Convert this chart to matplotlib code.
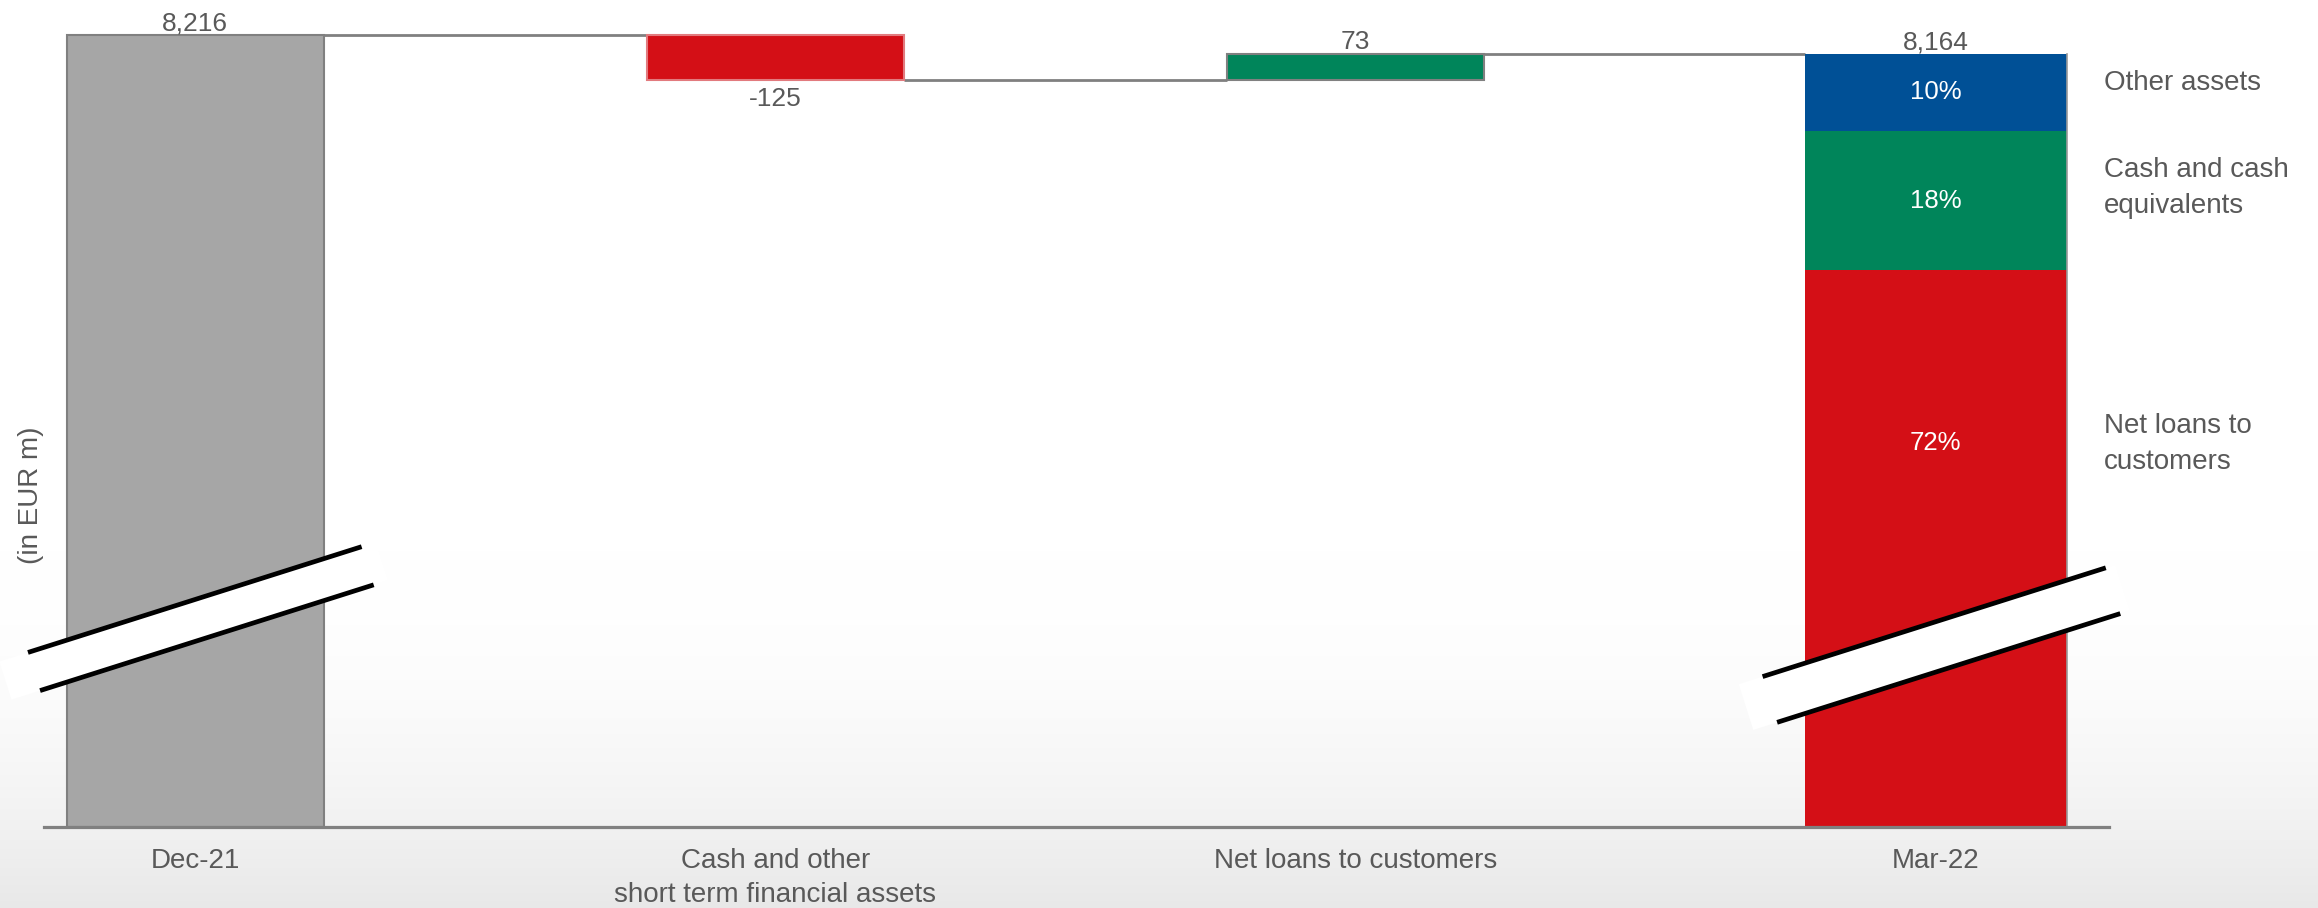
import numpy as np
import matplotlib
matplotlib.use("Agg")
import matplotlib.pyplot as plt
from matplotlib.lines import Line2D
from matplotlib.patches import Polygon
from matplotlib.transforms import IdentityTransform

# ---------------- data ----------------
categories = ["Dec-21", "Cash and other\nshort term financial assets",
              "Net loans to customers", "Mar-22"]
start_value = 8216
deltas = [-125, 73]
end_value = 8164
value_labels = ["8,216", "-125", "73", "8,164"]
mix_labels = ["Net loans to\ncustomers", "Cash and cash\nequivalents", "Other assets"]
mix_pct = [72, 18, 10]
mix_pct_labels = ["72%", "18%", "10%"]
axis_floor = 6000          # value where the (broken) axis starts
y_label = "(in EUR m)"

# ---------------- style ----------------
plt.rcParams['font.family'] = ['Liberation Sans', 'DejaVu Sans']
TXT = '#595959'
GRAY = '#a6a6a6'
EDGE = '#808080'
RED = '#d40f16'
GREEN = '#00855a'
BLUE = '#005096'
mix_colors = [RED, GREEN, BLUE]

W, H = 2318, 908
fig = plt.figure(figsize=(W / 100, H / 100), dpi=100)
fig.patch.set_facecolor('white')

# background gradient (white -> light gray at the bottom)
bg = fig.add_axes([0, 0, 1, 1], zorder=-10)
ypx = np.arange(H)
s = np.clip((ypx - 550) / 358.0, 0, 1)
v = 1 - 0.09 * s ** 2
img = np.repeat(v[:, None], 8, axis=1)
rgb = np.dstack([img, img, img])
bg.imshow(rgb, aspect='auto', extent=[0, 1, 0, 1], origin='upper',
          interpolation='nearest')
bg.set_xlim(0, 1)
bg.set_ylim(0, 1)
bg.axis('off')

ax = fig.add_axes([44 / W, 81 / H, 2065 / W, 822 / H])
ax.set_facecolor('none')
ax.set_xlim(-0.2603, 3.2988)
ax.set_ylim(axis_floor, 8300)
for sp in ['top', 'right', 'left']:
    ax.spines[sp].set_visible(False)
ax.spines['bottom'].set_color('#808080')
ax.spines['bottom'].set_linewidth(2.3)
ax.set_xticks([])
ax.set_yticks([])

bw = 0.443
bw_last = 0.452

# levels of the waterfall
levels = [start_value]
for d in deltas:
    levels.append(levels[-1] + d)

# start bar
ax.bar(0, start_value - axis_floor, bottom=axis_floor, width=bw,
       color=GRAY, edgecolor=EDGE, linewidth=1.5, zorder=2)

# delta bars
for i, d in enumerate(deltas, start=1):
    lo = min(levels[i - 1], levels[i])
    col = RED if d < 0 else GREEN
    ec = '#e27a7e' if d < 0 else EDGE
    ax.bar(i, abs(d), bottom=lo, width=bw, color=col, edgecolor=ec,
           linewidth=1.5, zorder=2)

# end bar, split into its composition
total_h = end_value - axis_floor
bottoms = []
b = axis_floor
for p, c in zip(mix_pct, mix_colors):
    h = total_h * p / 100.0
    ax.bar(3, h, bottom=b, width=bw_last, color=c, linewidth=0, zorder=2)
    bottoms.append((b, h))
    b += h
ax.plot([3 + bw_last / 2] * 2, [axis_floor, end_value], color='#9a9a9a',
        lw=1.2, zorder=2)

# connectors
for i in range(3):
    lvl = levels[i]
    left = i + bw / 2
    right = (i + 1) - (bw_last if i + 1 == 3 else bw) / 2
    ax.plot([left, right], [lvl, lvl], color=EDGE, lw=2.0, zorder=1,
            solid_capstyle='butt')

NUM_FS = 19
LAB_FS = 20

# value labels
ax.annotate(value_labels[0], xy=(0, start_value), xytext=(0, 3),
            textcoords='offset points', ha='center', va='baseline',
            fontsize=NUM_FS, color=TXT)
for i, d in enumerate(deltas, start=1):
    if d < 0:
        ax.annotate(value_labels[i], xy=(i, levels[i]), xytext=(0, -5),
                    textcoords='offset points', ha='center', va='top',
                    fontsize=NUM_FS, color=TXT)
    else:
        ax.annotate(value_labels[i], xy=(i, levels[i]), xytext=(0, 3),
                    textcoords='offset points', ha='center', va='baseline',
                    fontsize=NUM_FS, color=TXT)
ax.annotate(value_labels[3], xy=(3, end_value), xytext=(0, 3),
            textcoords='offset points', ha='center', va='baseline',
            fontsize=NUM_FS, color=TXT)

# category labels
for i, cat in enumerate(categories):
    ax.annotate(cat, xy=(i, axis_floor), xytext=(0, -15),
                textcoords='offset points', ha='center', va='top',
                fontsize=LAB_FS, color=TXT, linespacing=1.4,
                annotation_clip=False)

# composition labels
pct_pos = [0.69, 0.5, 0.5]
side_offsets = [-1, 9, 7]
for (b0, h), lab, plab, fpos, off in zip(bottoms, mix_labels, mix_pct_labels,
                                         pct_pos, side_offsets):
    yc = b0 + h * fpos
    ax.text(3, yc, plab, ha='center', va='center', fontsize=18.5,
            color='white', zorder=4)
    ax.annotate(lab, xy=(3 + bw_last / 2, yc), xytext=(27, off),
                textcoords='offset points', ha='left', va='center',
                fontsize=LAB_FS, color=TXT, linespacing=1.5,
                annotation_clip=False)

fig.text(31 / W, 1 - 495 / H, y_label, rotation=90, ha='center',
         va='center', fontsize=LAB_FS, color=TXT)


# axis break marks
def draw_break(xd, yd, sep, half_line, half_band):
    c = np.array(ax.transData.transform((xd, yd)))
    d = np.array([1.0, 0.317])
    d /= np.linalg.norm(d)
    n = np.array([0.317, -1.0])
    n /= np.linalg.norm(n)
    band = [c - d * half_band - n * sep / 2, c + d * (half_band - 15) - n * sep / 2,
            c + d * (half_band - 15) + n * sep / 2, c - d * half_band + n * sep / 2]
    poly = Polygon(band, closed=True, facecolor='white', edgecolor='none',
                   transform=IdentityTransform(), zorder=5)
    fig.add_artist(poly)
    for sgn in (-1, 1):
        cc = c + sgn * n * sep / 2
        p0 = cc - d * half_line
        p1 = cc + d * half_line
        ln = Line2D([p0[0], p1[0]], [p0[1], p1[1]], color='black', lw=3.4,
                    solid_capstyle='butt', transform=IdentityTransform(),
                    zorder=6)
        fig.add_artist(ln)


draw_break(0.01, 6583, 40, 175, 205)
draw_break(3.01, 6509, 48, 180, 205)

fig.savefig('out.png', dpi=100)
